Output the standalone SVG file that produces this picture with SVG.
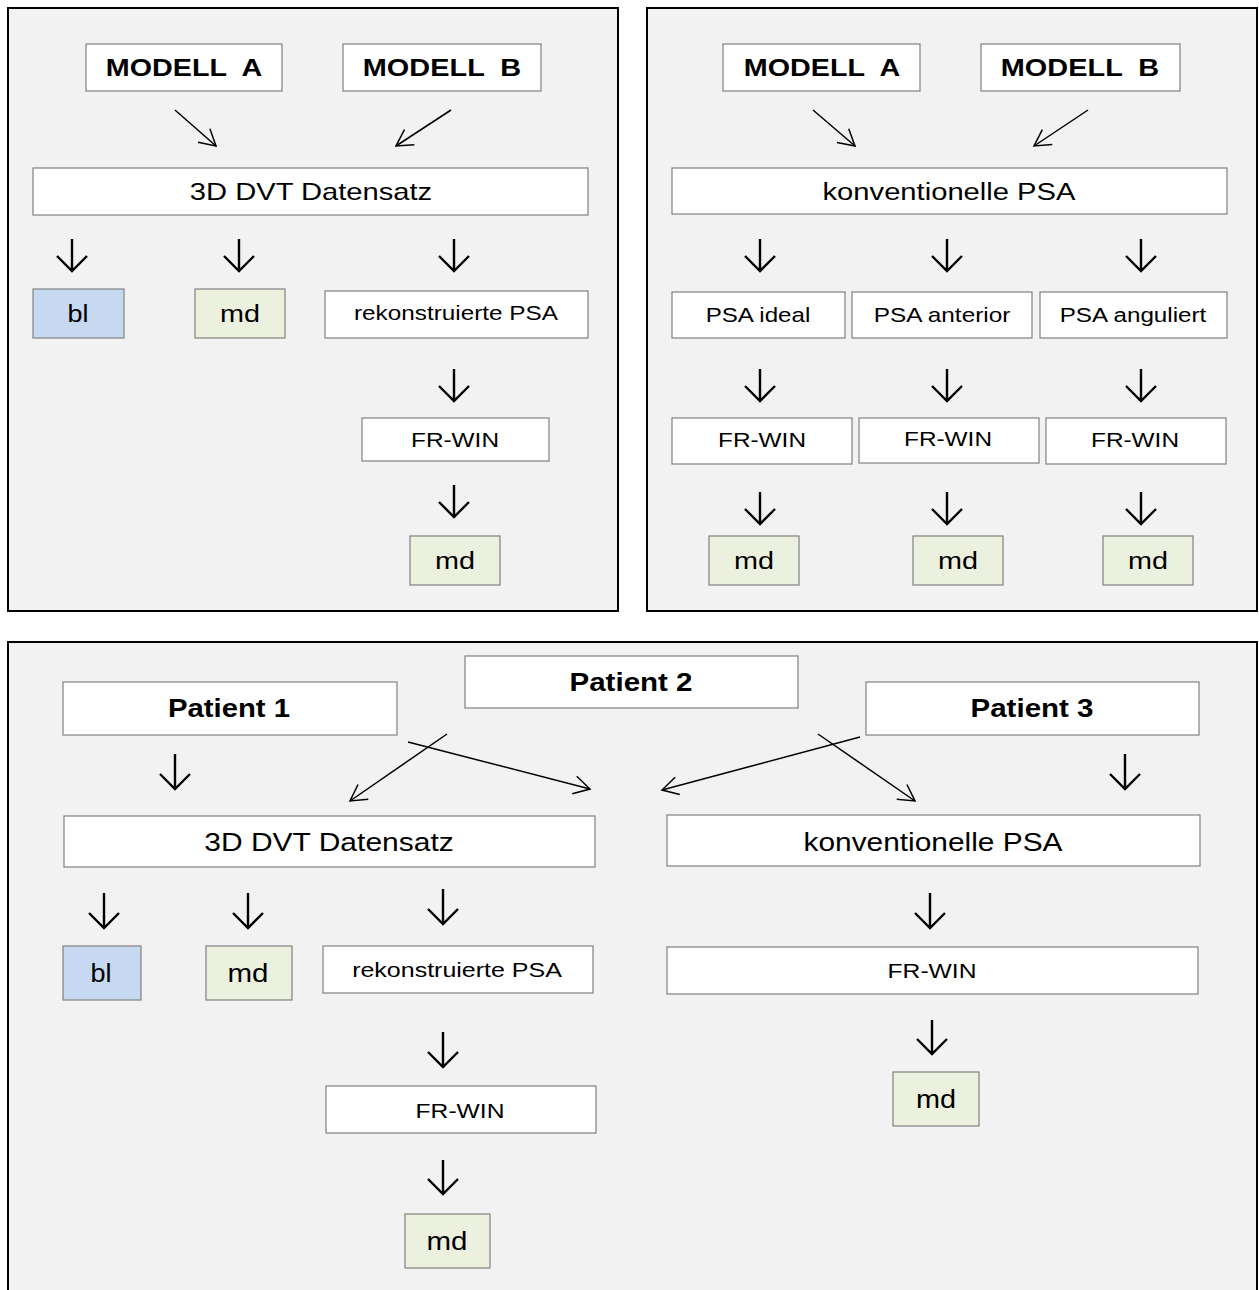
<svg xmlns="http://www.w3.org/2000/svg" width="1259" height="1290" viewBox="0 0 1259 1290">
<defs>
<style>
.panel{fill:#f2f2f2;stroke:#000;stroke-width:2}
.box{fill:#fff;stroke:#808080;stroke-width:1.2}
.blue{fill:#c6d9f0;stroke:#808080;stroke-width:1.2}
.green{fill:#ebf1de;stroke:#808080;stroke-width:1.2}
text{font-family:"Liberation Sans",Arial,sans-serif;fill:#000;text-anchor:middle}
.b{font-weight:bold}
.dn{fill:none;stroke:#000;stroke-width:2.4}
.dg{fill:none;stroke:#000;stroke-width:1.5}
</style>
<marker id="ah" markerUnits="userSpaceOnUse" markerWidth="24" markerHeight="22" refX="18" refY="10" orient="auto" viewBox="0 0 24 22">
<path d="M2 1 L18 10 L2 19" fill="none" stroke="#000" stroke-width="1.5"/>
</marker>
</defs>
<rect width="1259" height="1290" fill="#fff"/>
<rect class="panel" x="8" y="8" width="610" height="603"/>
<rect class="panel" x="647" y="8" width="610" height="603"/>
<rect class="panel" x="8" y="642" width="1249" height="660"/>

<g id="connectors">
<line class="dg" x1="175" y1="110" x2="216" y2="146" marker-end="url(#ah)"/>
<line class="dg" x1="451" y1="110" x2="396" y2="146" marker-end="url(#ah)"/>
<line class="dg" x1="813" y1="110" x2="855" y2="146" marker-end="url(#ah)"/>
<line class="dg" x1="1088" y1="110" x2="1034" y2="146" marker-end="url(#ah)"/>
<line class="dg" x1="447" y1="734" x2="350" y2="801" marker-end="url(#ah)"/>
<line class="dg" x1="408" y1="742" x2="590" y2="789" marker-end="url(#ah)"/>
<line class="dg" x1="860" y1="737" x2="662" y2="790" marker-end="url(#ah)"/>
<line class="dg" x1="818" y1="734" x2="915" y2="801" marker-end="url(#ah)"/>
<path class="dn" d="M72 239V271M57 256L72 271L87 256"/>
<path class="dn" d="M239 239V271M224 256L239 271L254 256"/>
<path class="dn" d="M454 239V271M439 256L454 271L469 256"/>
<path class="dn" d="M454 369V401M439 386L454 401L469 386"/>
<path class="dn" d="M454 485V517M439 502L454 517L469 502"/>
<path class="dn" d="M760 239V271M745 256L760 271L775 256"/>
<path class="dn" d="M947 239V271M932 256L947 271L962 256"/>
<path class="dn" d="M1141 239V271M1126 256L1141 271L1156 256"/>
<path class="dn" d="M760 369V401M745 386L760 401L775 386"/>
<path class="dn" d="M947 369V401M932 386L947 401L962 386"/>
<path class="dn" d="M1141 369V401M1126 386L1141 401L1156 386"/>
<path class="dn" d="M760 492V524M745 509L760 524L775 509"/>
<path class="dn" d="M947 492V524M932 509L947 524L962 509"/>
<path class="dn" d="M1141 492V524M1126 509L1141 524L1156 509"/>
<path class="dn" d="M175 754V789M160 774L175 789L190 774"/>
<path class="dn" d="M1125 754V789M1110 774L1125 789L1140 774"/>
<path class="dn" d="M104 893V928M89 913L104 928L119 913"/>
<path class="dn" d="M248 893V928M233 913L248 928L263 913"/>
<path class="dn" d="M443 889V924M428 909L443 924L458 909"/>
<path class="dn" d="M930 893V928M915 913L930 928L945 913"/>
<path class="dn" d="M443 1032V1067M428 1052L443 1067L458 1052"/>
<path class="dn" d="M932 1020V1054M917 1039L932 1054L947 1039"/>
<path class="dn" d="M443 1160V1194M428 1179L443 1194L458 1179"/>
</g>

<g id="tl-modell-a"><rect class="box" x="86" y="44" width="196" height="47"/><text class="b" transform="translate(184 76) scale(1.249 1)" font-size="23" xml:space="preserve">MODELL  A</text></g>
<g id="tl-modell-b"><rect class="box" x="343" y="44" width="198" height="47"/><text class="b" transform="translate(442 76) scale(1.257 1)" font-size="23" xml:space="preserve">MODELL  B</text></g>
<g id="tl-dvt"><rect class="box" x="33" y="168" width="555" height="47"/><text transform="translate(311 200) scale(1.214 1)" font-size="24">3D DVT Datensatz</text></g>
<g id="tl-bl"><rect class="blue" x="33" y="289" width="91" height="49"/><text transform="translate(78 322) scale(1.125 1)" font-size="24">bl</text></g>
<g id="tl-md1"><rect class="green" x="195" y="289" width="90" height="49"/><text transform="translate(240 322) scale(1.2 1)" font-size="24">md</text></g>
<g id="tl-rek"><rect class="box" x="325" y="291" width="263" height="47"/><text transform="translate(456 320) scale(1.216 1)" font-size="20">rekonstruierte PSA</text></g>
<g id="tl-frwin"><rect class="box" x="362" y="418" width="187" height="43"/><text transform="translate(455 447) scale(1.219 1)" font-size="20">FR-WIN</text></g>
<g id="tl-md2"><rect class="green" x="410" y="536" width="90" height="49"/><text transform="translate(455 569) scale(1.2 1)" font-size="24">md</text></g>

<g id="tr-modell-a"><rect class="box" x="723" y="44" width="197" height="47"/><text class="b" transform="translate(822 76) scale(1.249 1)" font-size="23" xml:space="preserve">MODELL  A</text></g>
<g id="tr-modell-b"><rect class="box" x="981" y="44" width="199" height="47"/><text class="b" transform="translate(1080 76) scale(1.257 1)" font-size="23" xml:space="preserve">MODELL  B</text></g>
<g id="tr-psa"><rect class="box" x="672" y="168" width="555" height="46"/><text transform="translate(949 200) scale(1.216 1)" font-size="24">konventionelle PSA</text></g>
<g id="tr-ideal"><rect class="box" x="672" y="292" width="173" height="46"/><text transform="translate(758 322) scale(1.207 1)" font-size="20">PSA ideal</text></g>
<g id="tr-anterior"><rect class="box" x="852" y="292" width="180" height="46"/><text transform="translate(942 322) scale(1.217 1)" font-size="20">PSA anterior</text></g>
<g id="tr-anguliert"><rect class="box" x="1040" y="292" width="187" height="46"/><text transform="translate(1133 322) scale(1.21 1)" font-size="20">PSA anguliert</text></g>
<g id="tr-frwin1"><rect class="box" x="672" y="418" width="180" height="46"/><text transform="translate(762 447) scale(1.219 1)" font-size="20">FR-WIN</text></g>
<g id="tr-frwin2"><rect class="box" x="859" y="418" width="180" height="45"/><text transform="translate(948 446) scale(1.219 1)" font-size="20">FR-WIN</text></g>
<g id="tr-frwin3"><rect class="box" x="1046" y="418" width="180" height="46"/><text transform="translate(1135 447) scale(1.219 1)" font-size="20">FR-WIN</text></g>
<g id="tr-md1"><rect class="green" x="709" y="536" width="90" height="49"/><text transform="translate(754 569) scale(1.2 1)" font-size="24">md</text></g>
<g id="tr-md2"><rect class="green" x="913" y="536" width="90" height="49"/><text transform="translate(958 569) scale(1.2 1)" font-size="24">md</text></g>
<g id="tr-md3"><rect class="green" x="1103" y="536" width="90" height="49"/><text transform="translate(1148 569) scale(1.2 1)" font-size="24">md</text></g>

<g id="b-patient1"><rect class="box" x="63" y="682" width="334" height="53"/><text class="b" transform="translate(229 717) scale(1.126 1)" font-size="26">Patient 1</text></g>
<g id="b-patient2"><rect class="box" x="465" y="656" width="333" height="52"/><text class="b" transform="translate(631 691) scale(1.135 1)" font-size="26">Patient 2</text></g>
<g id="b-patient3"><rect class="box" x="866" y="682" width="333" height="53"/><text class="b" transform="translate(1032 717) scale(1.135 1)" font-size="26">Patient 3</text></g>
<g id="b-dvt"><rect class="box" x="64" y="816" width="531" height="51"/><text transform="translate(329 851) scale(1.154 1)" font-size="26">3D DVT Datensatz</text></g>
<g id="b-psa"><rect class="box" x="667" y="815" width="533" height="51"/><text transform="translate(933 851) scale(1.149 1)" font-size="26">konventionelle PSA</text></g>
<g id="b-bl"><rect class="blue" x="63" y="946" width="78" height="54"/><text transform="translate(101 982) scale(1.04 1)" font-size="26">bl</text></g>
<g id="b-md1"><rect class="green" x="206" y="946" width="86" height="54"/><text transform="translate(248 982) scale(1.135 1)" font-size="26">md</text></g>
<g id="b-rek"><rect class="box" x="323" y="946" width="270" height="47"/><text transform="translate(457 977) scale(1.19 1)" font-size="21">rekonstruierte PSA</text></g>
<g id="b-frwin-r"><rect class="box" x="667" y="947" width="531" height="47"/><text transform="translate(932 978) scale(1.174 1)" font-size="21">FR-WIN</text></g>
<g id="b-frwin-l"><rect class="box" x="326" y="1086" width="270" height="47"/><text transform="translate(460 1118) scale(1.174 1)" font-size="21">FR-WIN</text></g>
<g id="b-md-r"><rect class="green" x="893" y="1072" width="86" height="54"/><text transform="translate(936 1108) scale(1.11 1)" font-size="26">md</text></g>
<g id="b-md-l"><rect class="green" x="405" y="1214" width="85" height="54"/><text transform="translate(447 1250) scale(1.135 1)" font-size="26">md</text></g>
</svg>
